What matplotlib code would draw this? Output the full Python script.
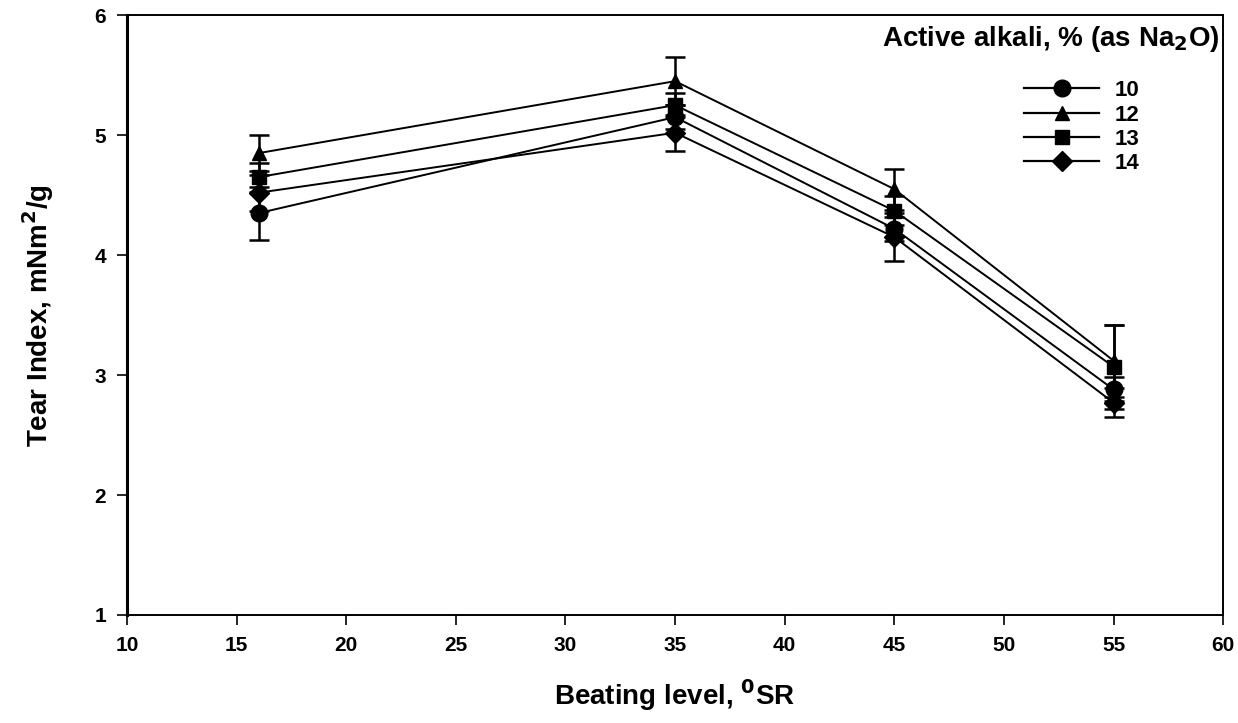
import matplotlib.pyplot as plt
from matplotlib.lines import Line2D

plt.rcParams['font.family'] = ['Liberation Sans', 'DejaVu Sans']
plt.rcParams['font.weight'] = 'bold'

# Data
beating = [16, 35, 45, 55]
alkali_labels = ['10', '12', '13', '14']
tear_10 = [4.35, 5.15, 4.22, 2.88]
tear_12 = [4.85, 5.45, 4.55, 3.12]
tear_13 = [4.65, 5.25, 4.37, 3.07]
tear_14 = [4.52, 5.02, 4.15, 2.77]
err_10 = [0.22, 0.10, 0.10, 0.10]
err_12 = [0.15, 0.20, 0.17, 0.30]
err_13 = [0.12, 0.10, 0.12, 0.35]
err_14 = [0.15, 0.15, 0.20, 0.12]

series = [(tear_10, err_10, 'o'), (tear_12, err_12, '^'),
          (tear_13, err_13, 's'), (tear_14, err_14, 'D')]
sizes = {'o': 12, '^': 10, 's': 10, 'D': 10}

fig = plt.figure(figsize=(12.38, 7.23), dpi=100)
ax = fig.add_axes([0.1026, 0.1494, 0.8854, 0.8296])

handles = []
for (vals, errs, m), lab in zip(series, alkali_labels):
    ax.errorbar(beating, vals, yerr=errs, color='black', marker=m,
                markersize=sizes[m], linewidth=1.4, elinewidth=1.8,
                capsize=7, capthick=1.8)
    handles.append(Line2D([], [], color='black', marker=m,
                          markersize=sizes[m], linewidth=1.6, label=lab))

ax.set_xlim(10, 60)
ax.set_ylim(1, 6)
ax.set_xticks(range(10, 61, 5))
ax.set_yticks(range(1, 7))
ax.tick_params(direction='out', length=7, width=1.2, labelsize=15, pad=8)
for lbl in ax.get_xticklabels() + ax.get_yticklabels():
    lbl.set_fontweight('bold')
for side in ['top', 'right', 'bottom']:
    ax.spines[side].set_linewidth(1.4)
ax.spines['left'].set_linewidth(2.2)

ax.set_xlabel('Beating level, $\\mathbf{^0}$SR', fontsize=20, fontweight='bold', labelpad=16)
ax.set_ylabel('Tear Index, mNm$\\mathbf{^2}$/g', fontsize=20, fontweight='bold', labelpad=28)

ax.text(0.997, 0.985, 'Active alkali, % (as Na$\\mathbf{_2}$O)', transform=ax.transAxes,
        ha='right', va='top', fontsize=20, fontweight='bold')
ax.legend(handles=handles, loc='upper left', bbox_to_anchor=(0.80, 0.925), frameon=False,
          handlelength=3.4, labelspacing=0.15, handletextpad=0.7,
          prop={'size': 16, 'weight': 'bold'})

plt.savefig('out.png', dpi=100)
